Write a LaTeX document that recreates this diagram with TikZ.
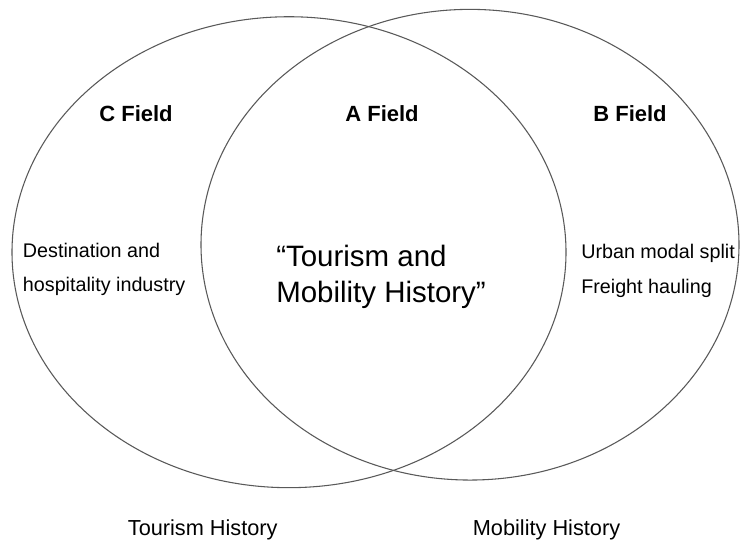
\documentclass[tikz,border=0pt]{standalone}
\usepackage{fontspec}
\setmainfont{Liberation Sans}
\begin{document}
\begin{tikzpicture}[x=0.75pt,y=-0.75pt,
  setline/.style={draw=black!65,line width=0.8pt},
  fieldlabel/.style={font=\fontsize{16.5}{20}\selectfont\bfseries,anchor=base,inner sep=0pt},
  sidetext/.style={font=\fontsize{14.8}{18}\selectfont,anchor=base west,inner sep=0pt},
  maintext/.style={font=\fontsize{22.1}{27}\selectfont,anchor=base west,inner sep=0pt},
  captext/.style={font=\fontsize{16.3}{20}\selectfont,anchor=base west,inner sep=0pt}]
\useasboundingbox (0,0) rectangle (741,540);
\fill[white] (0,0) rectangle (741,540);

% the two overlapping sets
\draw[setline] (289,252.2) ellipse [x radius=207.75pt, y radius=176.6pt];
\draw[setline] (470,244.7) ellipse [x radius=201.75pt, y radius=176.5pt];

% field headings
\node[fieldlabel] (cfield) at (136,121) {C Field};
\node[fieldlabel] (afield) at (382,121) {A Field};
\node[fieldlabel] (bfield) at (630,121.5) {B Field};

% left-only area
\node[sidetext] (dest) at (22.7,257.3) {Destination and};
\node[sidetext] (hosp) at (22.7,291.8) {hospitality industry};

% overlap
\node[maintext] (tour) at (276,266) {“Tourism and};
\node[maintext] (mobh) at (276,302.4) {Mobility History”};

% right-only area
\node[sidetext] (urban) at (581,258) {Urban modal split};
\node[sidetext] (freight) at (581,293.8) {Freight hauling};

% set captions
\node[captext] (tourh) at (127.6,535) {Tourism History};
\node[captext] (mobhist) at (472.6,535) {Mobility History};
\end{tikzpicture}
\end{document}
